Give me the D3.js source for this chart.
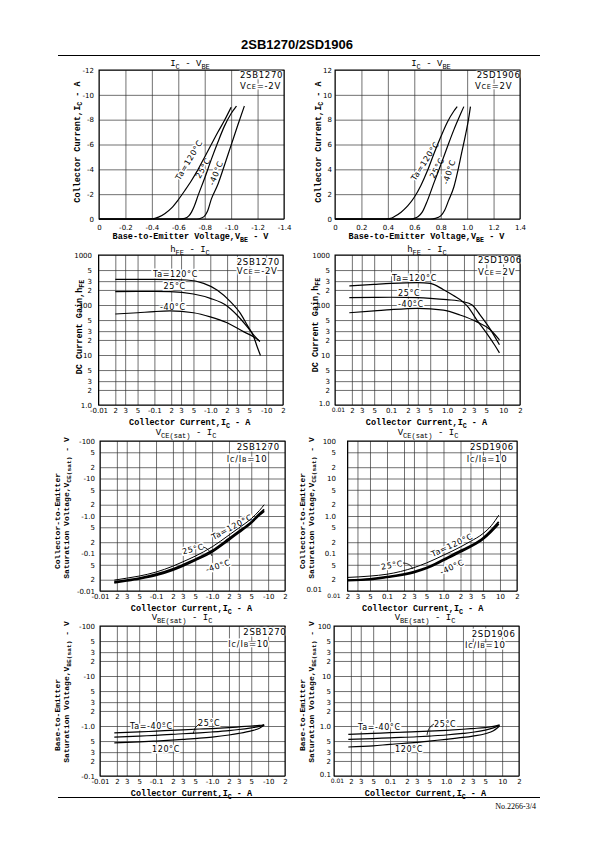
<!DOCTYPE html>
<html><head><meta charset="utf-8">
<script src="https://cdn.jsdelivr.net/npm/d3@7"></script>
<style>body{margin:0;background:#fff}svg{display:block}</style>
</head><body>
<svg id="page" width="595" height="842"></svg>
<script>
// ================= DATA =================
const headerTitle = "2SB1270/2SD1906";
const footerText = "No.2266-3/4";

// --- IC - VBE : 2SB1270 (VCE=-2V) [VBE (V), IC (A)]
const icvbeB_120 = [[0,0],[-0.3,0],[-0.4,-0.02],[-0.45,-0.15],[-0.5,-0.45],[-0.55,-0.9],[-0.6,-1.55],[-0.65,-2.3],[-0.7,-3.1],[-0.75,-4.0],[-0.8,-5.0],[-0.85,-6.0],[-0.9,-7.0],[-0.95,-7.95],[-1.0,-9.0]];
const icvbeB_25  = [[0,0],[-0.6,0],[-0.65,-0.05],[-0.68,-0.25],[-0.7,-0.55],[-0.72,-1.0],[-0.75,-1.9],[-0.8,-3.3],[-0.85,-4.8],[-0.9,-6.2],[-0.95,-7.5],[-1.0,-8.5],[-1.04,-9.1]];
const icvbeB_m40 = [[0,0],[-0.74,0],[-0.78,-0.1],[-0.8,-0.25],[-0.82,-0.6],[-0.85,-1.6],[-0.9,-2.8],[-0.95,-4.35],[-1.0,-5.95],[-1.05,-7.55],[-1.1,-9.1]];
// --- IC - VBE : 2SD1906 (VCE=2V)
const icvbeD_120 = [[0,0],[0.38,0],[0.42,0.05],[0.45,0.2],[0.5,0.55],[0.55,1.05],[0.6,1.75],[0.65,2.7],[0.7,3.9],[0.75,5.3],[0.8,6.6],[0.85,7.8],[0.9,8.7],[0.925,9.05]];
const icvbeD_25  = [[0,0],[0.57,0],[0.6,0.05],[0.63,0.2],[0.66,0.55],[0.7,1.5],[0.75,2.95],[0.8,4.35],[0.85,5.8],[0.9,7.2],[0.95,8.45],[0.975,9.05]];
const icvbeD_m40 = [[0,0],[0.72,0],[0.76,0.05],[0.8,0.25],[0.83,0.7],[0.86,1.5],[0.9,2.6],[0.93,3.9],[0.96,5.4],[0.99,6.9],[1.01,8.0],[1.025,9.05]];

// --- hFE - IC : 2SB1270 (|IC| A, hFE)
const hfeB_120 = [[0.02,326],[0.05,326],[0.1,325],[0.19,322],[0.38,316],[0.76,271],[1.32,200],[2.29,117],[3.46,68],[4.55,40],[6.0,23],[6.9,14.6],[7.9,9.8]];
const hfeB_25  = [[0.02,185],[0.05,186],[0.1,186],[0.19,185],[0.5,166],[1.0,136],[2.0,95.5],[3.0,63],[4.55,37],[6.0,25],[7.7,18.5]];
const hfeB_m40 = [[0.02,66],[0.05,70],[0.1,74],[0.19,76],[0.5,70],[1.0,58],[2.0,44],[4.0,29],[6.0,23],[7.7,19]];
// --- hFE - IC : 2SD1906
const hfeD_120 = [[0.018,240],[0.05,258],[0.1,270],[0.3,280],[0.5,270],[0.85,205],[1.3,155],[1.9,117],[2.4,90],[3.4,50],[5.1,27],[7.0,16],[8.6,11]];
const hfeD_25  = [[0.018,140],[0.05,142],[0.1,143],[0.3,140],[0.5,136],[1.0,128],[1.9,117],[2.8,100],[3.9,63],[5.5,37],[8.6,16]];
const hfeD_m40 = [[0.018,70],[0.05,76],[0.1,81],[0.3,86],[0.86,79],[1.7,63],[3.4,46],[5.9,32],[8.6,20]];

// --- VCE(sat) - IC : 2SB1270 (|IC|, |VCE(sat)|)
const vcesatB_ic  = [0.018,0.03,0.05,0.1,0.2,0.3,0.5,1,2,3,5,7,8.5];
const vcesatB_120 = [0.0195,0.022,0.025,0.032,0.046,0.06,0.085,0.15,0.31,0.48,0.85,1.4,2.0];
const vcesatB_25  = [0.0175,0.0195,0.022,0.028,0.039,0.05,0.07,0.12,0.25,0.39,0.7,1.15,1.5];
const vcesatB_m40 = [0.0165,0.0185,0.021,0.026,0.036,0.046,0.065,0.11,0.23,0.36,0.65,1.05,1.35];
// --- VCE(sat) - IC : 2SD1906
const vcesatD_ic  = [0.02,0.05,0.1,0.3,0.5,1,2,3,5,7,9.5];
const vcesatD_120 = [0.023,0.025,0.028,0.042,0.056,0.09,0.15,0.21,0.34,0.55,1.05];
const vcesatD_25  = [0.0195,0.021,0.024,0.033,0.042,0.07,0.12,0.16,0.26,0.42,0.7];
const vcesatD_m40 = [0.0188,0.02,0.023,0.031,0.04,0.065,0.11,0.15,0.24,0.38,0.62];

// --- VBE(sat) - IC : 2SB1270
const vbesatB_ic  = [0.018,0.05,0.1,0.3,0.6,1,2,3,5,7,8.5];
const vbesatB_m40 = [0.73,0.76,0.79,0.84,0.87,0.89,0.93,0.96,1.0,1.03,1.06];
const vbesatB_25  = [0.6,0.63,0.65,0.7,0.73,0.76,0.81,0.85,0.92,0.98,1.05];
const vbesatB_120 = [0.46,0.48,0.5,0.54,0.57,0.6,0.66,0.71,0.8,0.9,1.03];
// --- VBE(sat) - IC : 2SD1906
const vbesatD_ic  = [0.018,0.05,0.1,0.3,0.5,1,2,3,5,7,9];
const vbesatD_m40 = [0.68,0.71,0.74,0.77,0.79,0.82,0.86,0.89,0.93,0.98,1.05];
const vbesatD_25  = [0.54,0.56,0.58,0.61,0.63,0.66,0.71,0.75,0.83,0.92,1.03];
const vbesatD_120 = [0.38,0.4,0.43,0.47,0.5,0.54,0.59,0.63,0.7,0.8,1.0];

// --- ticks & tick labels
const vbeTicksB = [0,-0.2,-0.4,-0.6,-0.8,-1.0,-1.2,-1.4];
const vbeLabelsB = ["0","-0.2","-0.4","-0.6","-0.8","-1.0","-1.2","-1.4"];
const icTicksB = [0,-2,-4,-6,-8,-10,-12];
const icLabelsB = ["0","-2","-4","-6","-8","-10","-12"];
const vbeTicksD = [0,0.2,0.4,0.6,0.8,1.0,1.2,1.4];
const vbeLabelsD = ["0","0.2","0.4","0.6","0.8","1.0","1.2","1.4"];
const icTicksD = [0,2,4,6,8,10,12];
const icLabelsD = ["0","2","4","6","8","10","12"];
const logIcTicks = [0.01,0.02,0.03,0.05,0.1,0.2,0.3,0.5,1,2,3,5,10,20];
const logIcLabelsB = ["-0.01","2","3","5","-0.1","2","3","5","-1.0","2","3","5","-10","2"];
const logIcLabelsD = ["0.01","2","3","5","0.1","2","3","5","1.0","2","3","5","10","2"];
const hfeTicks = [1,2,3,5,10,20,30,50,100,200,300,500,1000];
const hfeLabels = ["1.0","2","3","5","10","2","3","5","100","2","3","5","1000"];
const vceTicks = [0.01,0.02,0.05,0.1,0.2,0.5,1,2,5,10,20,50,100];
const vceLabelsB = ["-0.01","2","5","-0.1","2","5","-1.0","2","5","-10","2","5","-100"];
const vceLabelsD = ["0.01","2","5","0.1","2","5","1.0","2","5","10","2","5","100"];
const vbsTicks = [0.1,0.2,0.3,0.5,1,2,3,5,10,20,30,50,100];
const vbsLabelsB = ["-0.1","2","3","5","-1.0","2","3","5","-10","2","3","5","-100"];
const vbsLabelsD = ["0.1","2","3","5","1.0","2","3","5","10","2","3","5","100"];

// ================= DRAWING =================
const svg = d3.select("#page");
const F_TICK = "'DejaVu Sans', sans-serif";
const F_MONO = "'Liberation Mono', 'DejaVu Sans Mono', monospace";
const F_LBL = "'DejaVu Sans', sans-serif";

function rich(t, parts, size) {
  let off = 0;
  parts.forEach(p => {
    const sub = p[0] === "_", small = p[0] === "~";
    const target = sub ? size * 0.32 : 0;
    const ts = t.append("tspan").attr("dy", target - off).text(sub || small ? p.slice(1) : p);
    if (sub || small) ts.style("font-size", (size * 0.78) + "px");
    off = target;
  });
}
const zip = (xs, ys) => xs.map((v, i) => [v, ys[i]]);

function drawChart(c) {
  const g = svg.append("g");
  const x = (c.xLog ? d3.scaleLog() : d3.scaleLinear()).domain(c.xDomain).range([c.x0, c.x1]);
  const y = (c.yLog ? d3.scaleLog() : d3.scaleLinear()).domain(c.yDomain).range([c.y1, c.y0]);
  const fx0 = c.frameFrom != null ? x(c.frameFrom) : c.x0;
  const w = c.x1 - fx0, h = c.y1 - c.y0;

  // grid
  const gx = g.append("g").attr("transform", `translate(0,${c.y1})`)
    .call(d3.axisBottom(x).tickValues(c.xTicks.filter(v => x(v) >= fx0 - 0.5)).tickSize(-h).tickFormat(""));
  const gy = g.append("g").attr("transform", `translate(${fx0},0)`)
    .call(d3.axisLeft(y).tickValues(c.yTicks).tickSize(-w).tickFormat(""));
  [gx, gy].forEach(a => {
    a.select(".domain").remove();
    a.selectAll("line").attr("stroke", "#333").attr("stroke-width", 0.7);
  });

  // annotations (white halo interrupts the grid)
  const halo = sel => sel.attr("stroke", "#fff").attr("stroke-width", 3).attr("paint-order", "stroke").attr("fill", "#000");
  c.notes.forEach(n => {
    const t = g.append("text").attr("x", n.x).attr("y", n.y)
      .style("font-family", F_LBL).style("font-size", "8.5px").style("letter-spacing", "0.7px");
    halo(t); rich(t, n.t, 8.5);
  });
  const addLabel = l => {
    const t = g.append("text").attr("x", l.x).attr("y", l.y)
      .attr("text-anchor", l.rot != null ? "middle" : "start")
      .attr("dy", l.rot != null ? "0.35em" : null)
      .attr("transform", l.rot != null ? `rotate(${l.rot},${l.x},${l.y})` : null)
      .style("font-family", F_LBL).style("font-size", "8px").style("letter-spacing", "0.6px")
      .text(l.t);
    halo(t);
  };
  c.labels.forEach(addLabel);

  // curves
  const line = d3.line().x(d => x(d[0])).y(d => y(d[1])).curve(d3.curveMonotoneX);
  c.series.forEach(s => {
    g.append("path").datum(s.data).attr("d", line)
      .attr("fill", "none").attr("stroke", "#000").attr("stroke-width", s.w || 1.2)
      .attr("stroke-linejoin", "round");
  });
  (c.hooks || []).forEach(k => {
    g.append("path").attr("d", `M${k[0]},${k[1]} Q${k[4]},${k[5]} ${k[2]},${k[3]}`)
      .attr("fill", "none").attr("stroke", "#000").attr("stroke-width", 0.8);
  });

  // frame
  g.append("rect").attr("x", fx0).attr("y", c.y0).attr("width", w).attr("height", h)
    .attr("fill", "none").attr("stroke", "#000").attr("stroke-width", 1);

  // tick labels
  const ax = g.append("g").attr("transform", `translate(0,${c.y1})`)
    .call(d3.axisBottom(x).tickValues(c.xTicks).tickFormat((d, i) => c.xLabels[i]).tickSize(0).tickPadding(c.xPad));
  const ay = g.append("g").attr("transform", `translate(${c.yLabelRight},0)`)
    .call(d3.axisLeft(y).tickValues(c.yTicks).tickFormat((d, i) => c.yLabels[i]).tickSize(0).tickPadding(0));
  [ax, ay].forEach(a => {
    a.select(".domain").remove();
    a.selectAll("text").style("font-family", F_TICK).style("font-size", "7px").attr("fill", "#000");
  });
  if (c.yLabelShift) ay.selectAll("text").attr("dx", (d, i) => c.yLabelShift[i] || 0);
  if (c.rightCorner) {
    ax.selectAll("text").filter((d, i) => i === 0).style("font-size", "6px").attr("dx", 3);
    ay.selectAll("text").filter((d, i) => i === 0).attr("y", -2);
  }

  // chart title
  const tt = g.append("text").attr("x", c.titleX).attr("y", c.y0 - c.titleGap).attr("text-anchor", "middle")
    .style("font-family", F_MONO).style("font-size", "9px");
  rich(tt, c.title, 9);
  // x axis title
  const xt = g.append("text").attr("x", (c.x0 + c.x1) / 2 - 1).attr("y", c.y1 + 20).attr("text-anchor", "middle")
    .style("font-family", F_MONO).style("font-size", "8.5px").style("font-weight", "bold");
  rich(xt, c.xTitle, 8.5);
  // y axis title(s)
  c.yTitles.forEach(yt => {
    const t = g.append("text").attr("transform", `translate(${yt.x},${yt.c}) rotate(-90)`).attr("text-anchor", "middle")
      .style("font-family", F_MONO).style("font-size", (yt.size || 8.5) + "px").style("font-weight", "bold");
    rich(t, yt.t, yt.size || 8.5);
  });
}

// ---------- header / footer ----------
svg.append("text").attr("x", 297).attr("y", 49).attr("text-anchor", "middle")
  .style("font-family", "'Liberation Sans', Arial, sans-serif").style("font-weight", "bold").style("font-size", "13px")
  .text(headerTitle);
svg.append("line").attr("x1", 58).attr("x2", 540).attr("y1", 55.5).attr("y2", 55.5).attr("stroke", "#000").attr("stroke-width", 1.2);
svg.append("line").attr("x1", 58).attr("x2", 540).attr("y1", 797.5).attr("y2", 797.5).attr("stroke", "#000").attr("stroke-width", 1.2);
svg.append("text").attr("x", 536).attr("y", 809).attr("text-anchor", "end")
  .style("font-family", "'Liberation Serif', 'Times New Roman', serif").style("font-size", "8px").text(footerText);

const icTitle = ["Collector Current,I", "_C", " - A"];

// ---------- Row 1 ----------
drawChart({
  xLog: false, xDomain: [0, -1.4], x0: 99, x1: 284, yLog: false, yDomain: [0, -12], y0: 70, y1: 219,
  xTicks: vbeTicksB, xLabels: vbeLabelsB, yTicks: icTicksB, yLabels: icLabelsB, xPad: 6, yLabelRight: 94,
  title: ["I", "_C", " - V", "_BE"], titleX: 190, titleGap: 4,
  xTitle: ["Base-to-Emitter Voltage,V", "_BE", " - V"],
  yTitles: [{ x: 79.5, c: 142, t: icTitle }],
  notes: [{ x: 240, y: 78.3, t: ["2SB1270"] }, { x: 240, y: 88.5, t: ["V", "~CE", "=-2V"] }],
  labels: [{ t: "Ta=120°C", x: 189, y: 160, rot: -59 }, { t: "25°C", x: 203, y: 168, rot: -60 }, { t: "-40°C", x: 216, y: 173, rot: -68 }],
  series: [{ data: icvbeB_120 }, { data: icvbeB_25 }, { data: icvbeB_m40 }]
});
drawChart({
  xLog: false, xDomain: [0, 1.4], x0: 335, x1: 520, yLog: false, yDomain: [0, 12], y0: 70, y1: 219,
  xTicks: vbeTicksD, xLabels: vbeLabelsD, yTicks: icTicksD, yLabels: icLabelsD, xPad: 6, yLabelRight: 332,
  title: ["I", "_C", " - V", "_BE"], titleX: 431, titleGap: 4,
  xTitle: ["Base-to-Emitter Voltage,V", "_BE", " - V"],
  yTitles: [{ x: 320.5, c: 142, t: icTitle }],
  notes: [{ x: 476.7, y: 78.3, t: ["2SD1906"] }, { x: 475, y: 88.5, t: ["V", "~CE", "=2V"] }],
  labels: [{ t: "Ta=120°C", x: 425, y: 161, rot: -57 }, { t: "25°C", x: 437, y: 168, rot: -62 }, { t: "-40°C", x: 449, y: 172, rot: -72 }],
  series: [{ data: icvbeD_120 }, { data: icvbeD_25 }, { data: icvbeD_m40 }]
});

// ---------- Row 2 ----------
drawChart({
  xLog: true, xDomain: [0.01, 20], x0: 98.5, x1: 283, yLog: true, yDomain: [1, 1000], y0: 255, y1: 405,
  xTicks: logIcTicks, xLabels: logIcLabelsB, yTicks: hfeTicks, yLabels: hfeLabels, xPad: 3, yLabelRight: 92,
  title: ["h", "_FE", " - I", "_C"], titleX: 190, titleGap: 3,
  xTitle: icTitle,
  yTitles: [{ x: 81.5, c: 327, t: ["DC Current Gain,h", "_FE"] }],
  notes: [{ x: 236.7, y: 265, t: ["2SB1270"] }, { x: 236.7, y: 273.5, t: ["V", "~CE", "=-2V"] }],
  labels: [{ t: "Ta=120°C", x: 153, y: 277 }, { t: "25°C", x: 163.5, y: 289 }, { t: "-40°C", x: 160, y: 310 }],
  series: [{ data: hfeB_120 }, { data: hfeB_25 }, { data: hfeB_m40 }]
});
drawChart({
  xLog: true, xDomain: [0.01, 20], x0: 335, x1: 520, yLog: true, yDomain: [1, 1000], y0: 255, y1: 405,
  xTicks: logIcTicks, xLabels: logIcLabelsD, rightCorner: true, yTicks: hfeTicks, yLabels: hfeLabels, xPad: 3, yLabelRight: 330,
  title: ["h", "_FE", " - I", "_C"], titleX: 427, titleGap: 3,
  xTitle: icTitle,
  yTitles: [{ x: 317.5, c: 325, t: ["DC Current Gain,h", "_FE"] }],
  notes: [{ x: 478, y: 263.3, t: ["2SD1906"] }, { x: 478, y: 275, t: ["V", "~CE", "=2V"] }],
  labels: [{ t: "Ta=120°C", x: 392, y: 280.5 }, { t: "25°C", x: 398, y: 295.5 }, { t: "-40°C", x: 398, y: 307 }],
  series: [{ data: hfeD_120 }, { data: hfeD_25 }, { data: hfeD_m40 }]
});

// ---------- Row 3 ----------
drawChart({
  xLog: true, xDomain: [0.01, 20], x0: 100, x1: 285, yLog: true, yDomain: [0.01, 100], y0: 441, y1: 591,
  xTicks: logIcTicks, xLabels: logIcLabelsB, yTicks: vceTicks, yLabels: vceLabelsB, xPad: 3, yLabelRight: 95,
  title: ["V", "_CE(sat)", " - I", "_C"], titleX: 186, titleGap: 6,
  xTitle: icTitle,
  yTitles: [{ x: 59.5, c: 521, size: 8, t: ["Collector-to-Emitter"] }, { x: 68.5, c: 508, size: 8, t: ["Saturation Voltage,V", "_CE(sat)", " - V"] }],
  notes: [{ x: 236.7, y: 450, t: ["2SB1270"] }, { x: 226.7, y: 461.7, t: ["I", "~C", "/", "I", "~B", "=10"] }],
  labels: [{ t: "Ta=120°C", x: 232, y: 527, rot: -28 }, { t: "25°C", x: 193, y: 549, rot: -14 }, { t: "-40°C", x: 218, y: 566, rot: -18 }],
  hooks: [[203, 547, 212, 556, 209, 548]],
  series: [{ data: zip(vcesatB_ic, vcesatB_120), w: 1 }, { data: zip(vcesatB_ic, vcesatB_25), w: 1.8 }, { data: zip(vcesatB_ic, vcesatB_m40), w: 1.8 }]
});
drawChart({
  xLog: true, xDomain: [0.01, 20], x0: 330.5, x1: 517, frameFrom: 0.02, yLog: true, yDomain: [0.01, 100], y0: 441, y1: 591,
  xTicks: logIcTicks, xLabels: logIcLabelsD, rightCorner: true, yTicks: vceTicks, yLabels: vceLabelsD, xPad: 3, yLabelRight: 336,
  yLabelShift: { 0: -14 },
  title: ["V", "_CE(sat)", " - I", "_C"], titleX: 428, titleGap: 6,
  xTitle: icTitle,
  yTitles: [{ x: 304.5, c: 521, size: 8, t: ["Collector-to-Emitter"] }, { x: 313.5, c: 508, size: 8, t: ["Saturation Voltage,V", "_CE(sat)", " - V"] }],
  notes: [{ x: 470, y: 450, t: ["2SD1906"] }, { x: 466.7, y: 461.7, t: ["I", "~C", "/", "I", "~B", "=10"] }],
  labels: [{ t: "Ta=120°C", x: 452, y: 545, rot: -25 }, { t: "25°C", x: 392, y: 565, rot: -10 }, { t: "-40°C", x: 452, y: 567, rot: -25 }],
  hooks: [[403, 563, 413, 569, 410, 563]],
  series: [{ data: zip(vcesatD_ic, vcesatD_120), w: 1 }, { data: zip(vcesatD_ic, vcesatD_25), w: 1.8 }, { data: zip(vcesatD_ic, vcesatD_m40), w: 1.8 }]
});

// ---------- Row 4 ----------
drawChart({
  xLog: true, xDomain: [0.01, 20], x0: 100, x1: 285, yLog: true, yDomain: [0.1, 100], y0: 626, y1: 776,
  xTicks: logIcTicks, xLabels: logIcLabelsB, yTicks: vbsTicks, yLabels: vbsLabelsB, xPad: 3, yLabelRight: 95,
  title: ["V", "_BE(sat)", " - I", "_C"], titleX: 182, titleGap: 6,
  xTitle: icTitle,
  yTitles: [{ x: 60, c: 715, size: 8, t: ["Base-to-Emitter"] }, { x: 68.5, c: 692, size: 8, t: ["Saturation Voltage,V", "_BE(sat)", " - V"] }],
  notes: [{ x: 243.3, y: 635, t: ["2SB1270"] }, { x: 228.3, y: 646.7, t: ["I", "~C", "/", "I", "~B", "=10"] }],
  labels: [{ t: "Ta=-40°C", x: 130, y: 729 }, { t: "25°C", x: 198, y: 726 }, { t: "120°C", x: 152, y: 752 }],
  hooks: [[193, 734, 199, 724, 194, 727]],
  series: [{ data: zip(vbesatB_ic, vbesatB_m40) }, { data: zip(vbesatB_ic, vbesatB_25) }, { data: zip(vbesatB_ic, vbesatB_120) }]
});
drawChart({
  xLog: true, xDomain: [0.01, 20], x0: 334, x1: 519, yLog: true, yDomain: [0.1, 100], y0: 626, y1: 776,
  xTicks: logIcTicks, xLabels: logIcLabelsD, rightCorner: true, yTicks: vbsTicks, yLabels: vbsLabelsD, xPad: 3, yLabelRight: 331,
  title: ["V", "_BE(sat)", " - I", "_C"], titleX: 425, titleGap: 6,
  xTitle: icTitle,
  yTitles: [{ x: 305, c: 715, size: 8, t: ["Base-to-Emitter"] }, { x: 313.5, c: 692, size: 8, t: ["Saturation Voltage,V", "_BE(sat)", " - V"] }],
  notes: [{ x: 471.7, y: 636.7, t: ["2SD1906"] }, { x: 465, y: 648.3, t: ["I", "~C", "/", "I", "~B", "=10"] }],
  labels: [{ t: "Ta=-40°C", x: 358, y: 730 }, { t: "25°C", x: 434, y: 727 }, { t: "120°C", x: 395, y: 752 }],
  hooks: [[427, 735, 434, 724, 428, 727]],
  series: [{ data: zip(vbesatD_ic, vbesatD_m40) }, { data: zip(vbesatD_ic, vbesatD_25) }, { data: zip(vbesatD_ic, vbesatD_120) }]
});
</script>
</body></html>
